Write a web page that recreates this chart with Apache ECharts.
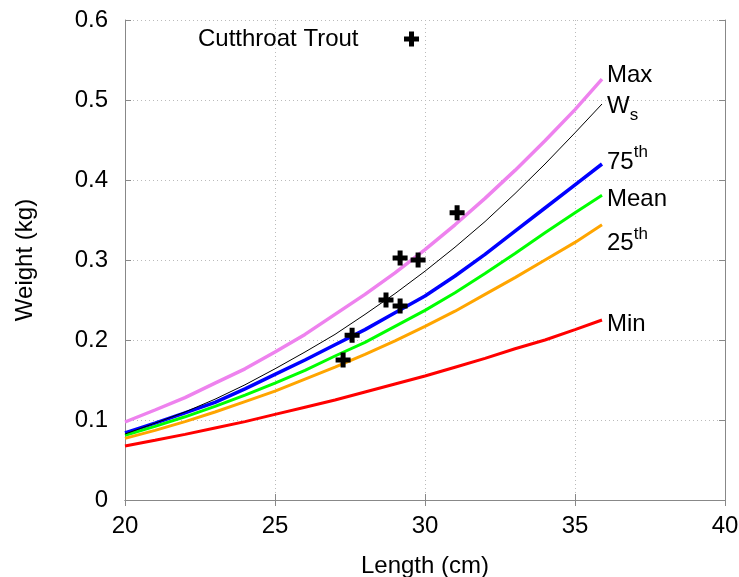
<!DOCTYPE html>
<html><head><meta charset="utf-8">
<script src="https://cdn.jsdelivr.net/npm/echarts@6/dist/echarts.min.js"></script>
<style>html,body{margin:0;padding:0;background:#fff}#c{width:739px;height:577px}</style>
</head><body><div id="c"></div>
<script>
const lengths   = [20, 21, 22, 23, 24, 25, 26, 27, 28, 29, 30, 31, 32, 33, 34, 35, 35.9];
const maxW      = [0.0975, 0.1125, 0.128, 0.146, 0.164, 0.185, 0.207, 0.232, 0.257, 0.284, 0.313, 0.344, 0.377, 0.412, 0.449, 0.488, 0.526];
const wsW       = [0.0825, 0.096, 0.110, 0.126, 0.144, 0.164, 0.185, 0.207, 0.232, 0.258, 0.286, 0.316, 0.348, 0.383, 0.420, 0.459, 0.495];
const p75W      = [0.084, 0.096, 0.109, 0.122, 0.139, 0.157, 0.175, 0.194, 0.213, 0.234, 0.255, 0.280, 0.307, 0.336, 0.365, 0.394, 0.420];
const meanW     = [0.081, 0.092, 0.104, 0.117, 0.131, 0.146, 0.162, 0.180, 0.197, 0.217, 0.237, 0.259, 0.283, 0.308, 0.334, 0.359, 0.381];
const p25W      = [0.077, 0.087, 0.098, 0.110, 0.123, 0.136, 0.151, 0.166, 0.182, 0.199, 0.217, 0.236, 0.257, 0.278, 0.300, 0.322, 0.344];
const minW      = [0.0675, 0.0746, 0.082, 0.090, 0.098, 0.107, 0.116, 0.125, 0.135, 0.145, 0.155, 0.166, 0.177, 0.189, 0.200, 0.213, 0.225];
const troutLength = [27.27, 27.57, 28.70, 29.17, 29.17, 29.77, 31.07];
const troutWeight = [0.175, 0.206, 0.250, 0.2425, 0.3025, 0.300, 0.359];
const curveNames = ['Max', 'Ws', '75th', 'Mean', '25th', 'Min'];
const troutName = 'Cutthroat Trout';

const FONT = '"Liberation Sans", Arial, sans-serif';
const pair = (ys) => lengths.map((x, i) => [x, ys[i]]);
const CROSS = 'path://M5,0H10V5H15V10H10V15H5V10H0V5H5Z';
const rich = {
  a: { fontSize: 24, fontFamily: FONT, color: '#000', lineHeight: 36 },
  sub: { fontSize: 17, fontFamily: FONT, color: '#000', verticalAlign: 'bottom', lineHeight: 18 },
  sup: { fontSize: 17, fontFamily: FONT, color: '#000', verticalAlign: 'top', lineHeight: 18 }
};
function curve(name, ys, color, width, fmt, dy, z) {
  return {
    name, type: 'line', data: pair(ys), showSymbol: false, symbol: 'none', z,
    lineStyle: { color, width }, itemStyle: { color },
    emphasis: { disabled: true },
    endLabel: { show: true, formatter: fmt, distance: 5, offset: [0, dy], rich,
      fontSize: 24, fontFamily: FONT, color: '#000' }
  };
}
const axisLineStyle = { color: '#888', width: 1 };
const chart = echarts.init(document.getElementById('c'), null, { renderer: 'canvas' });
chart.setOption({
  animation: false,
  backgroundColor: '#fff',
  textStyle: { fontFamily: FONT },
  grid: { left: 125, right: 14, top: 20, bottom: 77, containLabel: false, outerBoundsMode: 'none' },
  legend: {
    data: [{ name: troutName, icon: CROSS }],
    left: 193, top: 22, align: 'right',
    itemWidth: 96, itemHeight: 15, symbolKeepAspect: true,
    textStyle: { fontSize: 24, fontFamily: FONT, color: '#000' },
    selectedMode: false
  },
  xAxis: [{
    type: 'value', min: 20, max: 40, interval: 5,
    name: 'Length (cm)', nameLocation: 'middle', nameGap: 54,
    nameTextStyle: { fontSize: 24, fontFamily: FONT, color: '#000' },
    axisLine: { show: true, lineStyle: axisLineStyle },
    axisTick: { show: true, inside: true, length: 6, lineStyle: axisLineStyle },
    axisLabel: { fontSize: 24, fontFamily: FONT, color: '#000', margin: 14 },
    splitLine: { show: true, lineStyle: { type: [1, 3], color: '#bbb', width: 1 } }
  }, {
    type: 'value', min: 20, max: 40, interval: 5, position: 'top',
    axisLine: { show: true, lineStyle: axisLineStyle },
    axisTick: { show: true, inside: true, length: 6, lineStyle: axisLineStyle },
    axisLabel: { show: false }, splitLine: { show: false }
  }],
  yAxis: [{
    type: 'value', min: 0, max: 0.6, interval: 0.1,
    name: 'Weight (kg)', nameLocation: 'middle', nameGap: 88,
    nameTextStyle: { fontSize: 24, fontFamily: FONT, color: '#000' },
    axisLine: { show: true, lineStyle: axisLineStyle },
    axisTick: { show: true, inside: true, length: 6, lineStyle: axisLineStyle },
    axisLabel: { fontSize: 24, fontFamily: FONT, color: '#000', margin: 17,
      formatter: (v) => String(+v.toFixed(1)) },
    splitLine: { show: true, lineStyle: { type: [1, 3], color: '#bbb', width: 1 } }
  }, {
    type: 'value', min: 0, max: 0.6, interval: 0.1, position: 'right',
    axisLine: { show: true, lineStyle: axisLineStyle },
    axisTick: { show: true, inside: true, length: 6, lineStyle: axisLineStyle },
    axisLabel: { show: false }, splitLine: { show: false }
  }],
  series: [
    curve(curveNames[0], maxW, '#ee82ee', 3.5, '{a|Max}', -4, 2),
    curve(curveNames[2], p75W, '#0000ff', 3.5, '{a|75}{sup|th}', -2, 2),
    curve(curveNames[3], meanW, '#00ff00', 3, '{a|Mean}', 4, 2),
    curve(curveNames[4], p25W, '#ffa500', 3, '{a|25}{sup|th}', 19, 2),
    curve(curveNames[5], minW, '#ff0000', 3, '{a|Min}', 4, 2),
    curve(curveNames[1], wsW, '#000000', 1, '{a|W}{sub|s}', 2, 3),
    {
      name: troutName, type: 'scatter', z: 5,
      data: troutLength.map((x, i) => [x, troutWeight[i]]),
      symbol: CROSS, symbolSize: 15, symbolKeepAspect: true,
      itemStyle: { color: '#000', opacity: 1 }, emphasis: { disabled: true }
    }
  ]
});
</script></body></html>
